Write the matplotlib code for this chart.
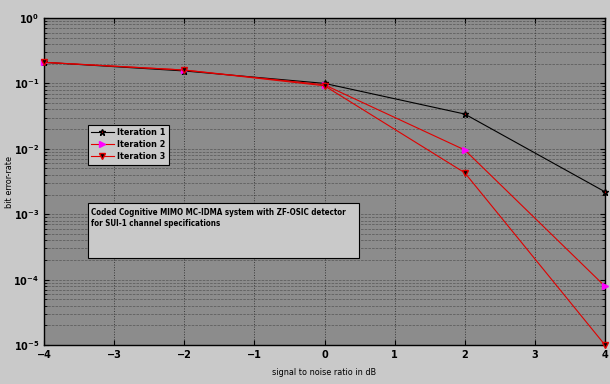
import numpy as np
from matplotlib import pyplot as plt
from matplotlib.patches import Rectangle

snr = [-4, -2, 0, 2, 4]
ber_it1 = [0.21, 0.155, 0.10, 0.034, 0.0022]
ber_it2 = [0.21, 0.16, 0.095, 0.0096, 7.9e-5]
ber_it3 = [0.21, 0.16, 0.092, 0.0043, 1.0e-5]
labels = ['Iteration 1', 'Iteration 2', 'Iteration 3']
note = ('Coded Cognitive MIMO MC-IDMA system with ZF-OSIC detector\n'
        'for SUI-1 channel specifications')

fig = plt.figure(figsize=(6.1, 3.84), dpi=100, facecolor='#c9c9c9')
ax = fig.add_axes([44/610, 1-345/384, 561/610, 327/384])
ax.set_facecolor('#8c8c8c')

ax.semilogy(snr, ber_it1, '-', color='black', lw=0.8, marker='*',
            markersize=5, markerfacecolor='#c00000', markeredgecolor='black',
            label=labels[0], zorder=3, clip_on=False)
ax.semilogy(snr, ber_it2, '-', color='#e00000', lw=0.8, marker='>',
            markersize=5, markerfacecolor='#ff00ff', markeredgecolor='#ff00ff',
            label=labels[1], zorder=3, clip_on=False)
ax.semilogy(snr, ber_it3, '-', color='#e00000', lw=0.8, marker='v',
            markersize=5, markerfacecolor='black', markeredgecolor='#e00000',
            label=labels[2], zorder=3, clip_on=False)

ax.set_xlim(-4, 4)
ax.set_ylim(1e-5, 1)
ax.set_xticks(np.arange(-4, 5, 1))
ax.grid(True, which='major', axis='x', color='#383838', linestyle=':', lw=0.7)
ax.grid(True, which='both', axis='y', color='#404040', linestyle='--', lw=0.5,
        alpha=0.7)
ax.tick_params(which='both', direction='in', top=True, right=True,
               labelsize=7, colors='black')
for lab in ax.get_xticklabels() + ax.get_yticklabels():
    lab.set_fontweight('bold')
ax.set_xlabel('signal to noise ratio in dB', fontsize=6.5, stretch='condensed',
              labelpad=6)
ax.set_ylabel('bit error-rate', fontsize=6.5, stretch='condensed')
ax.yaxis.set_label_coords(-30/561, 0.5)
for sp in ax.spines.values():
    sp.set_linewidth(1.0)

leg = ax.legend(loc='upper left', bbox_to_anchor=(44/561, 1-(125-18)/327),
                prop={'weight': 'bold', 'size': 6.5, 'stretch': 'condensed'},
                fancybox=False, framealpha=1, facecolor='#c9c9c9',
                edgecolor='black', handlelength=2.5, borderpad=0.35,
                labelspacing=0.35, handletextpad=0.4, borderaxespad=0)
leg.get_frame().set_linewidth(0.8)

fig.patches.append(Rectangle((88/610, 1-258/384), 271/610, 55/384,
                             transform=fig.transFigure, facecolor='#c9c9c9',
                             edgecolor='black', lw=0.8, zorder=5))
fig.text(91/610, 1-208/384, note, fontsize=5.8, fontweight='bold',
         stretch='condensed', va='top', ha='left', zorder=6, linespacing=1.35)

plt.savefig('out.png', dpi=100, facecolor=fig.get_facecolor())
